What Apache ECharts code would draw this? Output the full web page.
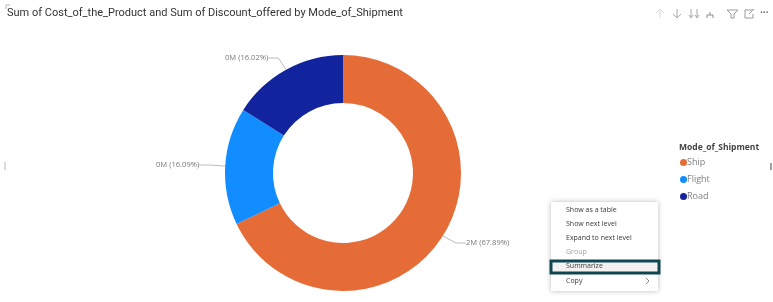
<!DOCTYPE html>
<html>
<head>
<meta charset="utf-8">
<style>
    html, body { margin: 0; padding: 0; background: #fff; }
    #chart { width: 773px; height: 302px; }
</style>
<script src="https://cdn.jsdelivr.net/npm/echarts@6/dist/echarts.min.js"></script>
</head>
<body>
<div id="chart"></div>
<script>
// 图表数据
const shipModes = ['Ship', 'Flight', 'Road']
const shareValues = [67.89, 16.09, 16.02]
const shortValues = ['2M', '0M', '0M']
const sliceColors = ['#e66c37', '#118dff', '#12239e']
const menuItems = ['Show as a table', 'Show next level', 'Expand to next level', 'Group', 'Summarize', 'Copy']

const font = '"Open Sans", "Noto Sans", sans-serif'

// 右键菜单
function menuGraphics() {
    const rowY = [210, 224, 238, 252, 266, 281]
    const items = [
        {
            type: 'rect',
            shape: { x: 551, y: 202, width: 107, height: 89 },
            style: { fill: '#fff', shadowBlur: 5, shadowColor: 'rgba(0,0,0,0.28)' },
            z: 20,
        },
        {
            type: 'rect',
            shape: { x: 551, y: 261, width: 108, height: 12 },
            style: { fill: '#f3f2f1', stroke: '#0f4650', lineWidth: 3 },
            z: 21,
        },
        {
            type: 'polyline',
            shape: { points: [[646, 278], [649, 281], [646, 284]] },
            style: { fill: null, stroke: '#8a8886', lineWidth: 1 },
            z: 22,
        },
    ]
    menuItems.forEach((name, i) => {
        items.push({
            type: 'text',
            x: 566,
            y: rowY[i],
            style: {
                text: name,
                font: `7px ${font}`,
                fill: name === 'Group' ? '#a19f9d' : '#3b3a39',
                verticalAlign: 'middle',
            },
            z: 22,
        })
    })
    return items
}

// 右上角工具图标
function toolbarGraphics() {
    return [
        { type: 'polyline', shape: { points: [[660, 18], [660, 9]] }, style: { stroke: '#dcdcdc' } },
        { type: 'polyline', shape: { points: [[656, 13], [660, 9], [664, 13]] }, style: { fill: null, stroke: '#dcdcdc' } },
        { type: 'polyline', shape: { points: [[677, 9], [677, 18]] }, style: { stroke: '#a8a8a8' } },
        { type: 'polyline', shape: { points: [[673, 14], [677, 18], [681, 14]] }, style: { fill: null, stroke: '#a8a8a8' } },
        { type: 'polyline', shape: { points: [[691, 9], [691, 18]] }, style: { stroke: '#a8a8a8' } },
        { type: 'polyline', shape: { points: [[697, 9], [697, 18]] }, style: { stroke: '#a8a8a8' } },
        { type: 'polyline', shape: { points: [[689, 15], [691, 18], [693, 15]] }, style: { fill: null, stroke: '#a8a8a8' } },
        { type: 'polyline', shape: { points: [[695, 15], [697, 18], [699, 15]] }, style: { fill: null, stroke: '#a8a8a8' } },
        { type: 'polyline', shape: { points: [[707, 18], [707, 15], [713, 15], [713, 18]] }, style: { fill: null, stroke: '#8c8c8c' } },
        { type: 'polyline', shape: { points: [[710, 15], [710, 12]] }, style: { stroke: '#8c8c8c' } },
        { type: 'polyline', shape: { points: [[727, 10], [738, 10], [734, 14], [734, 18], [731, 18], [731, 14], [727, 10]] }, style: { fill: null, stroke: '#9a9a9a' } },
        { type: 'polyline', shape: { points: [[753, 10], [745, 10], [745, 18], [753, 18], [753, 14]] }, style: { fill: null, stroke: '#9a9a9a' } },
        { type: 'polyline', shape: { points: [[749, 14], [754, 9]] }, style: { stroke: '#9a9a9a' } },
        { type: 'text', x: 760, y: 13, style: { text: '···', font: `bold 10px ${font}`, fill: '#777', verticalAlign: 'middle' } },
        { type: 'polyline', shape: { points: [[6, 9], [6, 5], [10, 5]] }, style: { fill: null, stroke: '#b5b5b5' } },
        { type: 'polyline', shape: { points: [[5, 162], [5, 170]] }, style: { stroke: '#b5b5b5' } },
        { type: 'rect', shape: { x: 770, y: 163, width: 2, height: 7 }, style: { fill: '#a0a0a0' } },
    ]
}

const chart = echarts.init(document.getElementById('chart'))

const labelSpots = [
    { x: 466, y: 243, align: 'left' },
    { x: 156, y: 165, align: 'left' },
    { x: 225, y: 58, align: 'left' },
]

chart.setOption({
    animation: false,
    backgroundColor: '#fff',
    title: {
        text: 'Sum of Cost_of_the_Product and Sum of Discount_offered by Mode_of_Shipment',
        left: 2,
        top: 3,
        textStyle: { fontFamily: 'Roboto, sans-serif', fontSize: 11, fontWeight: 400, color: '#333' },
    },
    legend: {
        data: shipModes,
        orient: 'vertical',
        left: 675,
        top: 153,
        icon: 'circle',
        itemWidth: 7,
        itemHeight: 7,
        itemGap: 8,
        textStyle: { fontFamily: font, fontSize: 9, color: '#808080', padding: [0, 0, 0, -5] },
    },
    graphic: [
        {
            type: 'text',
            x: 679,
            y: 148,
            style: { text: 'Mode_of_Shipment', font: `bold 8.5px ${font}`, fill: '#444', verticalAlign: 'middle' },
        },
        ...toolbarGraphics(),
        ...menuGraphics(),
    ],
    series: [
        {
            type: 'pie',
            center: [343, 173],
            radius: [70, 118],
            startAngle: 90,
            clockwise: true,
            data: shipModes.map((name, i) => ({
                name: name,
                value: shareValues[i],
                itemStyle: { color: sliceColors[i] },
                label: { formatter: `${shortValues[i]} (${shareValues[i].toFixed(2)}%)` },
            })),
            label: { fontFamily: font, fontSize: 7.6, color: '#777' },
            labelLine: { show: true, length: 10, length2: 10, lineStyle: { color: '#bbb', width: 1 } },
            labelLayout: (params) => ({ x: labelSpots[params.dataIndex].x, y: labelSpots[params.dataIndex].y, align: labelSpots[params.dataIndex].align, verticalAlign: 'middle' }),
        },
    ],
})
</script>
</body>
</html>
